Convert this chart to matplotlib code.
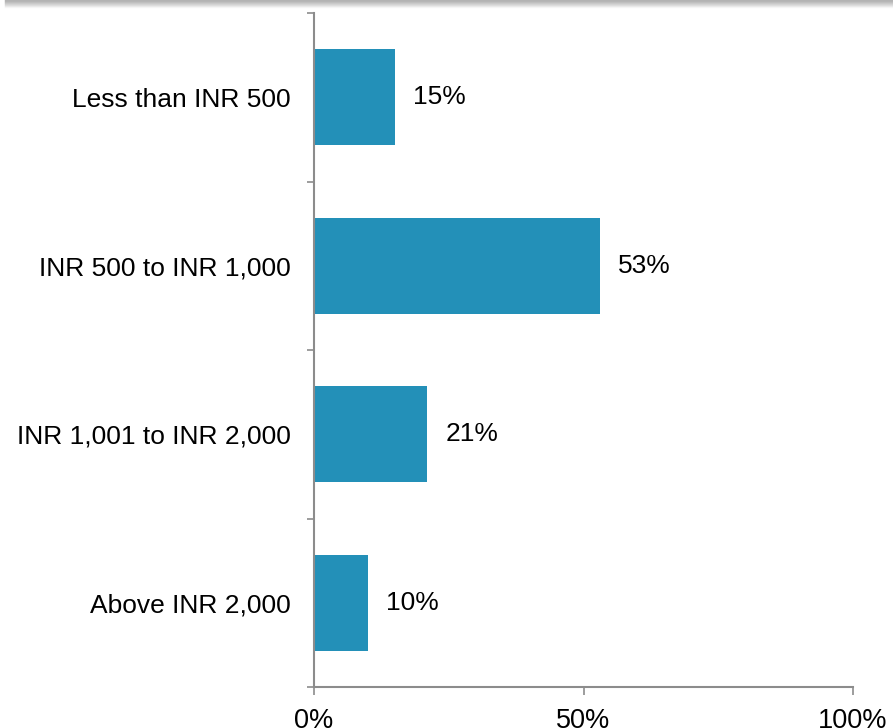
import numpy as np
import matplotlib
matplotlib.use("Agg")
from matplotlib import pyplot as plt
from matplotlib.ticker import FixedLocator

categories = ["Less than INR 500", "INR 500 to INR 1,000",
              "INR 1,001 to INR 2,000", "Above INR 2,000"]
values = [15, 53, 21, 10]
xticks = [0, 50, 100]
xtick_labels = ["0%", "50%", "100%"]

plt.rcParams['font.family'] = ['Liberation Sans', 'DejaVu Sans']

W, H = 893, 728
fig = plt.figure(figsize=(W / 100, H / 100), dpi=100)
ax = fig.add_axes([314 / W, 1 - 687 / H, (853 - 314) / W, (687 - 13) / H])

n = len(categories)
y = np.arange(n)[::-1]
ax.barh(y, values, height=0.57, color='#2390B8', edgecolor='none')
for yi, v in zip(y, values):
    ax.annotate(f"{v}%", (v, yi), xytext=(13, 0), textcoords='offset points',
                va='center', ha='left', fontsize=19, color='black')

ax.set_xlim(0, 100)
ax.set_ylim(-0.5, n - 0.5)
ax.set_xticks(xticks)
ax.set_xticklabels(xtick_labels, fontsize=19.5)
ax.set_yticks(y)
ax.set_yticklabels(categories, fontsize=19)
ax.yaxis.set_minor_locator(FixedLocator(np.arange(-0.5, n, 1.0)))
ax.tick_params(axis='y', which='major', length=0, pad=16.5)
ax.tick_params(axis='y', which='minor', length=5, width=1.2, color='#8c8c8c')
ax.tick_params(axis='x', length=6, width=1.2, color='#8c8c8c', pad=9)

for s in ['top', 'right']:
    ax.spines[s].set_visible(False)
for s in ['left', 'bottom']:
    ax.spines[s].set_color('#8c8c8c')
    ax.spines[s].set_linewidth(1.5)

# grey shadow band along the top edge
for i, a in enumerate(np.linspace(0.55, 0.05, 8)):
    fig.add_artist(plt.Line2D([0.006, 1], [1 - i / H, 1 - i / H],
                              transform=fig.transFigure, color='gray',
                              alpha=a, lw=1))

fig.savefig("out.png", dpi=100)
